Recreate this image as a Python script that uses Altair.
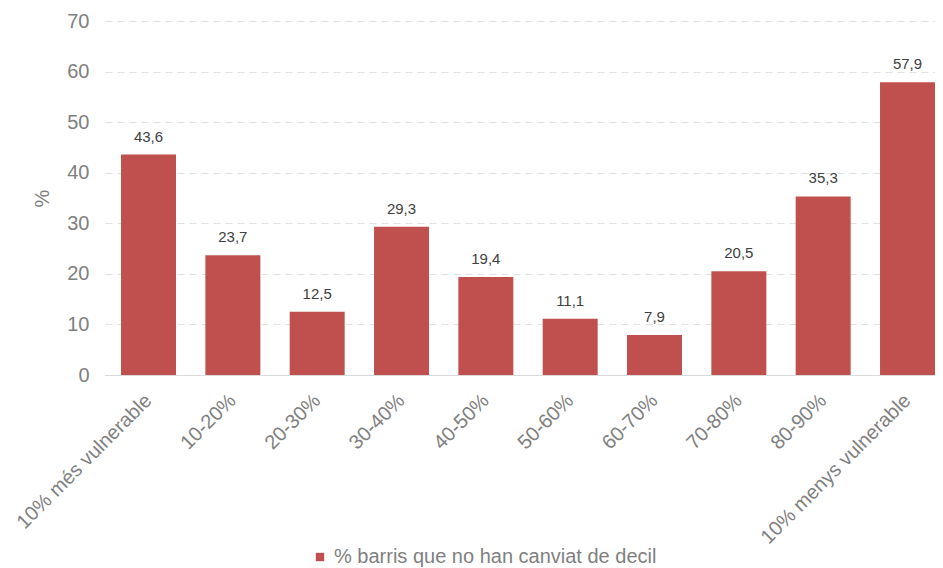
import altair as alt
import pandas as pd

categories = ["10% més vulnerable", "10-20%", "20-30%", "30-40%", "40-50%",
              "50-60%", "60-70%", "70-80%", "80-90%", "10% menys vulnerable"]
values = [43.6, 23.7, 12.5, 29.3, 19.4, 11.1, 7.9, 20.5, 35.3, 57.9]
series_name = "% barris que no han canviat de decil"
y_ticks = [0, 10, 20, 30, 40, 50, 60, 70]

df = pd.DataFrame({
    "cat": categories,
    "val": values,
    "lab": [f"{v:.1f}".replace(".", ",") for v in values],
    "serie": [series_name] * len(values),
})

FONT = "Liberation Sans"
GRAY = "#7f7f7f"

x = alt.X("cat:N", sort=categories, title=None,
          scale=alt.Scale(paddingInner=0.348, paddingOuter=0.095, align=1),
          axis=alt.Axis(labelAngle=-45, labelFontSize=20, labelColor=GRAY,
                        labelFont=FONT, ticks=False, domain=True, grid=False,
                        domainColor="#d9d9d9", labelPadding=15, labelOffset=-7,
                        labelLimit=400))
y = alt.Y("val:Q", title="%",
          scale=alt.Scale(domain=[0, 70], nice=False),
          axis=alt.Axis(values=y_ticks, labelFontSize=20, labelColor=GRAY,
                        labelFont=FONT, titleFont=FONT, titleFontSize=20,
                        titleColor=GRAY, titleFontWeight="normal",
                        ticks=False, domain=False, grid=True,
                        gridColor="#e0e0e0", gridDash=[7, 5], labelPadding=16,
                        titlePadding=14))

bars = alt.Chart(df).mark_bar(color="#C0504D").encode(
    x=x, y=y,
    color=alt.Color("serie:N", scale=alt.Scale(domain=[series_name], range=["#C0504D"]),
                    legend=alt.Legend(title=None, orient="none", legendX=205, legendY=526,
                                      symbolType="square", symbolSize=70,
                                      labelFont=FONT, labelFontSize=20, labelColor=GRAY,
                                      labelLimit=600, symbolStrokeWidth=0)),
)

text = alt.Chart(df).mark_text(baseline="bottom", dy=-10, fontSize=15,
                               font=FONT, color="#404040").encode(
    x=x, y=y, text="lab:N")

chart = (bars + text).properties(
    width=830, height=354,
    padding={"left": 97, "top": 13, "right": 0, "bottom": 192},
    autosize=alt.AutoSizeParams(type="none"),
    background="white",
).configure_view(strokeWidth=0, stroke="transparent")

chart.save("out.html", embed_options={"renderer": "svg", "actions": False})
